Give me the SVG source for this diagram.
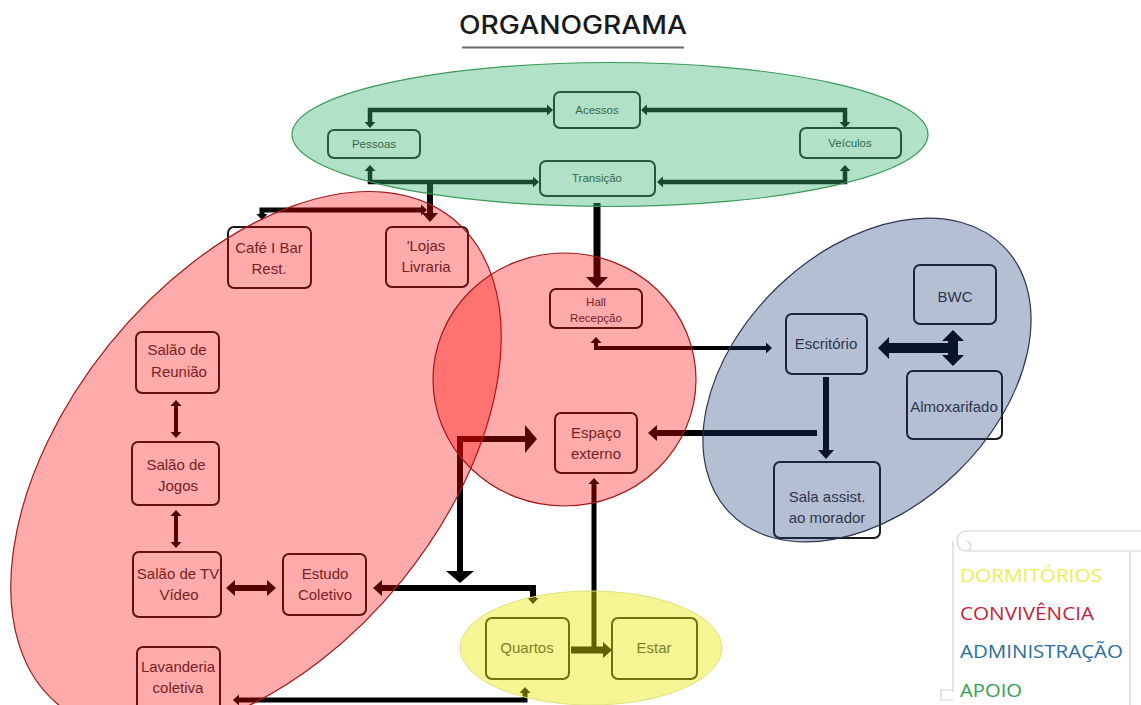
<svg xmlns="http://www.w3.org/2000/svg" width="1141" height="705" viewBox="0 0 1141 705">
<style>
.box{fill:#fff;stroke:#1a1a1a;stroke-width:2}
.t{font-family:"Liberation Sans",Arial,sans-serif;font-size:15px;fill:#333;text-anchor:middle}
.ts{font-family:"Liberation Sans",Arial,sans-serif;font-size:11.5px;fill:#333;text-anchor:middle}
.c{fill:none;stroke:#000;stroke-linejoin:miter}
.leg{font-family:"Open Sans","Noto Sans",sans-serif;font-size:18px}
</style>
<defs>
<marker id="as" markerUnits="userSpaceOnUse" markerWidth="7" markerHeight="11" refX="0" refY="5.5" orient="auto-start-reverse" overflow="visible"><path d="M0,0 L6,5.5 L0,11 z" fill="#000"/></marker>
<marker id="am" markerUnits="userSpaceOnUse" markerWidth="10" markerHeight="16" refX="0" refY="8" orient="auto-start-reverse" overflow="visible"><path d="M0,0 L9,8 L0,16 z" fill="#000"/></marker>
<marker id="ab" markerUnits="userSpaceOnUse" markerWidth="11" markerHeight="22" refX="0" refY="11" orient="auto-start-reverse" overflow="visible"><path d="M0,0 L11,11 L0,22 z" fill="#000"/></marker>
<marker id="al" markerUnits="userSpaceOnUse" markerWidth="12" markerHeight="28" refX="0" refY="14" orient="auto-start-reverse" overflow="visible"><path d="M0,0 L12,14 L0,28 z" fill="#000"/></marker>
</defs>
<rect width="1141" height="705" fill="#fff"/>
<g id="title">
<text x="573" y="34" font-family="Inter,'Open Sans',sans-serif" font-size="25" font-weight="500" fill="#1a1a1a" text-anchor="middle" textLength="228" lengthAdjust="spacingAndGlyphs">ORGANOGRAMA</text>
<line x1="462" y1="47.5" x2="684" y2="47.5" stroke="#6a6a6a" stroke-width="2"/>
</g>
<g id="connectors">
<path class="c" stroke-width="4.5" d="M370,122 V110 H547" marker-start="url(#as)" marker-end="url(#as)"/>
<path class="c" stroke-width="4.5" d="M845,122 V110 H647" marker-start="url(#as)" marker-end="url(#as)"/>
<path class="c" stroke-width="4.5" d="M370,171 V182 H533" marker-start="url(#as)" marker-end="url(#as)"/>
<path class="c" stroke-width="4.5" d="M845,171 V182 H663" marker-start="url(#as)" marker-end="url(#as)"/>
<path class="c" stroke-width="6" d="M430,182 V213" marker-end="url(#am)"/>
<path class="c" stroke-width="5" d="M262,214 V210 H421" marker-start="url(#as)" marker-end="url(#as)"/>
<path class="c" stroke-width="7" d="M597,203 V277" marker-end="url(#ab)"/>
<path class="c" stroke-width="4" d="M596,343 V348 H766" marker-start="url(#as)" marker-end="url(#as)"/>
<path class="c" stroke-width="6" d="M826,377 V450" marker-end="url(#am)"/>
<path class="c" stroke-width="6" d="M817,433 H657" marker-end="url(#am)"/>
<path class="c" stroke-width="10" d="M958,348 H889" marker-end="url(#ab)"/>
<path class="c" stroke-width="10" d="M953,341 V355" marker-start="url(#ab)" marker-end="url(#ab)"/>
<path class="c" stroke-width="6" d="M460,571 V439 H525" marker-start="url(#al)" marker-end="url(#al)"/>
<path class="c" stroke-width="6" d="M382,588 H533 V598" marker-start="url(#am)" marker-end="url(#as)"/>
<path class="c" stroke-width="5" d="M239,700 H525 V693" marker-start="url(#as)" marker-end="url(#as)"/>
<path class="c" stroke-width="5" d="M594,484 V650" marker-start="url(#as)"/>
<path class="c" stroke-width="7" d="M571,650 H603" marker-end="url(#am)"/>
<path class="c" stroke-width="4" d="M176,406 V432" marker-start="url(#as)" marker-end="url(#as)"/>
<path class="c" stroke-width="4" d="M176,516 V542" marker-start="url(#as)" marker-end="url(#as)"/>
<path class="c" stroke-width="6" d="M235,588 H267" marker-start="url(#am)" marker-end="url(#am)"/>
</g>
<g id="acessos"><rect class="box" x="554" y="92" width="86" height="36" rx="6"/><text class="ts" x="597" y="114">Acessos</text></g>
<g id="pessoas"><rect class="box" x="328" y="130" width="92" height="28" rx="6"/><text class="ts" x="374" y="148">Pessoas</text></g>
<g id="veiculos"><rect class="box" x="800" y="128" width="101" height="30" rx="6"/><text class="ts" x="850" y="147">Veículos</text></g>
<g id="transicao"><rect class="box" x="540" y="161" width="115" height="35" rx="6"/><text class="ts" x="597" y="182">Transição</text></g>
<g id="cafe"><rect class="box" x="228" y="227" width="83" height="61" rx="6"/><text class="t" x="269" y="253">Café I Bar</text><text class="t" x="269" y="274">Rest.</text></g>
<g id="lojas"><rect class="box" x="386" y="227" width="82" height="60" rx="6"/><text class="t" x="426" y="251">'Lojas</text><text class="t" x="426" y="272">Livraria</text></g>
<g id="reuniao"><rect class="box" x="136" y="332" width="83" height="61" rx="6"/><text class="t" x="177" y="355">Salão de</text><text class="t" x="179" y="377">Reunião</text></g>
<g id="jogos"><rect class="box" x="132" y="442" width="87" height="63" rx="6"/><text class="t" x="176" y="470">Salão de</text><text class="t" x="178" y="491">Jogos</text></g>
<g id="tv"><rect class="box" x="133" y="552" width="88" height="65" rx="6"/><text class="t" x="178" y="579">Salão de TV</text><text class="t" x="179" y="600">Vídeo</text></g>
<g id="estudo"><rect class="box" x="283" y="554" width="83" height="61" rx="6"/><text class="t" x="325" y="579">Estudo</text><text class="t" x="325" y="600">Coletivo</text></g>
<g id="lavanderia"><rect class="box" x="137" y="647" width="83" height="64" rx="6"/><text class="t" x="178" y="672">Lavanderia</text><text class="t" x="178" y="693">coletiva</text></g>
<g id="hall"><rect class="box" x="550" y="289" width="92" height="39" rx="6"/><text class="ts" x="596" y="306">Hall</text><text class="ts" x="596" y="322">Recepção</text></g>
<g id="espaco"><rect class="box" x="555" y="413" width="82" height="60" rx="6"/><text class="t" x="596" y="438">Espaço</text><text class="t" x="596" y="459">externo</text></g>
<g id="escritorio"><rect class="box" x="786" y="314" width="81" height="60" rx="6"/><text class="t" x="826" y="349">Escritório</text></g>
<g id="bwc"><rect class="box" x="914" y="265" width="82" height="59" rx="6"/><text class="t" x="955" y="302">BWC</text></g>
<g id="almoxarifado"><rect class="box" x="907" y="371" width="95" height="68" rx="6"/><text class="t" x="954" y="412">Almoxarifado</text></g>
<g id="sala"><rect class="box" x="774" y="462" width="106" height="76" rx="6"/><text class="t" x="827" y="502">Sala assist.</text><text class="t" x="827" y="523">ao morador</text></g>
<g id="quartos"><rect class="box" x="486" y="618" width="83" height="61" rx="6"/><text class="t" x="527" y="653">Quartos</text></g>
<g id="estar"><rect class="box" x="612" y="618" width="85" height="61" rx="6"/><text class="t" x="654" y="653">Estar</text></g>
<g id="regions">
<ellipse cx="610" cy="134.5" rx="318" ry="72" fill="#3cb371" fill-opacity="0.4" stroke="#3a9a5a" stroke-width="1.2"/>
<ellipse cx="0" cy="0" rx="313" ry="188" transform="translate(256 462) rotate(-51)" fill="#ff0000" fill-opacity="0.33" stroke="#a01818" stroke-width="1.2"/>
<ellipse cx="564.5" cy="379.5" rx="131.5" ry="126.5" fill="#ff0000" fill-opacity="0.33" stroke="#a01818" stroke-width="1.2"/>
<ellipse cx="0" cy="0" rx="191" ry="129" transform="translate(867 380) rotate(-44)" fill="#1f3c78" fill-opacity="0.33" stroke="#2a3550" stroke-width="1.2"/>
<ellipse cx="591" cy="648" rx="131" ry="57" fill="#e8e800" fill-opacity="0.42" stroke="#e0e080" stroke-width="1"/>
</g>
<g id="legend">
<path d="M966,531 H1141 M966,531 a9,10 0 1 0 0,20 a5,5 0 0 0 0,-10 M966,551 H1141 M953,541 V692 M1130,551 V705 M953,690 h-12 v10 h12" fill="none" stroke="#d8d3cb" stroke-width="1.2"/>
<text class="leg" x="960" y="582" fill="#eded55" textLength="142" lengthAdjust="spacingAndGlyphs">DORMITÓRIOS</text>
<text class="leg" x="960" y="620" fill="#c8203a" textLength="134" lengthAdjust="spacingAndGlyphs">CONVIVÊNCIA</text>
<text class="leg" x="960" y="658" fill="#2a6ea0" textLength="163" lengthAdjust="spacingAndGlyphs">ADMINISTRAÇÃO</text>
<text class="leg" x="960" y="697" fill="#33a050" textLength="62" lengthAdjust="spacingAndGlyphs">APOIO</text>
</g>
</svg>
